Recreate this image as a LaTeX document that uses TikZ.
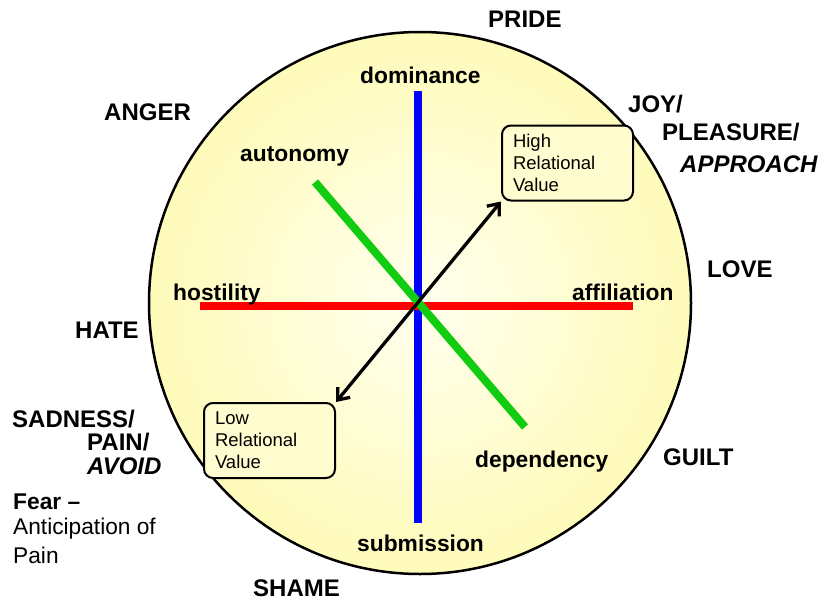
\documentclass[tikz,border=0pt]{standalone}
\usepackage{fontspec}
\setmainfont{Liberation Sans}
\usepackage{tikz}
\usetikzlibrary{arrows.meta}

\definecolor{rimyellow}{RGB}{255,251,186}
\definecolor{midcream}{RGB}{255,255,238}
\definecolor{bargreen}{RGB}{18,204,18}

\begin{document}
\begin{tikzpicture}[x=1pt,y=1pt,yscale=-1,
  emotion/.style={anchor=base west,inner sep=0pt,font=\fontsize{24}{29}\selectfont\bfseries},
  axislabel/.style={anchor=base west,inner sep=0pt,font=\fontsize{22.8}{27}\selectfont\bfseries},
  plainlabel/.style={anchor=base west,inner sep=0pt,font=\fontsize{22.7}{27}\selectfont},
  valuebox/.style={draw,line width=2pt,rounded corners=9pt,fill=rimyellow!60!midcream,
    minimum width=131pt,minimum height=75pt,text width=109pt,inner xsep=11pt,
    align=left,font=\fontsize{18.5}{22}\selectfont},
  bar/.style={line width=8pt}]
\useasboundingbox (0,0) rectangle (823,600);

%Shape: Circle
\node [circle,draw,line width=2.5pt,minimum size=542pt,inner color=midcream,outer color=rimyellow] (wheel) at (420,303) {};

%Straight Lines
\coordinate (dom) at (418,91);
\coordinate (sub) at (418,523);
\coordinate (hos) at (200,306);
\coordinate (aff) at (633,306);
\coordinate (aut) at (315,182);
\coordinate (dep) at (525,427);
\draw [bar,color=blue] (dom) -- (sub) ;
\draw [bar,color=red] (hos) -- (aff) ;
\draw [bar,color=bargreen] (aut) -- (dep) ;

% Boxes
\node [valuebox] (high) at (567.5,163) {High\\Relational\\Value};
\node [valuebox] (low) at (269.5,440.5) {Low\\Relational\\Value};
\draw [line width=3.3pt,{Straight Barb[length=10pt,width=16pt]}-{Straight Barb[length=10pt,width=16pt]}] (low.north east) -- (high.south west) ;

% Text Node
\node [axislabel] (dominance) at (360,83) {dominance};
\node [axislabel] (submission) at (357,551) {submission};
\node [axislabel] (hostility) at (173,300) {hostility};
\node [axislabel] (affiliation) at (572,300) {affiliation};
\node [axislabel] (autonomy) at (240,161) {autonomy};
\node [axislabel] (dependency) at (475,467) {dependency};

% Text Node
\node [emotion] (pride) at (488,27) {PRIDE};
\node [emotion] (anger) at (104,120) {ANGER};
\node [emotion] (joy) at (628,112) {JOY/};
\node [emotion] (pleasure) at (662,140) {PLEASURE/};
\node [emotion] (approach) at (680,172) {\itshape APPROACH};
\node [emotion] (love) at (707,277) {LOVE};
\node [emotion] (hate) at (75,338) {HATE};
\node [emotion] (guilt) at (663,465) {GUILT};
\node [emotion] (shame) at (253,596) {SHAME};
\node [emotion] (sadness) at (12,427) {SADNESS/};
\node [emotion] (pain) at (87,450) {PAIN/};
\node [emotion] (avoid) at (87,474) {\itshape AVOID};

% Text Node
\node [axislabel] (fear) at (13,509) {Fear --};
\node [plainlabel] (anticipation) at (13,534.6) {Anticipation of};
\node [plainlabel] (painnote) at (13,563) {Pain};

\end{tikzpicture}
\end{document}
